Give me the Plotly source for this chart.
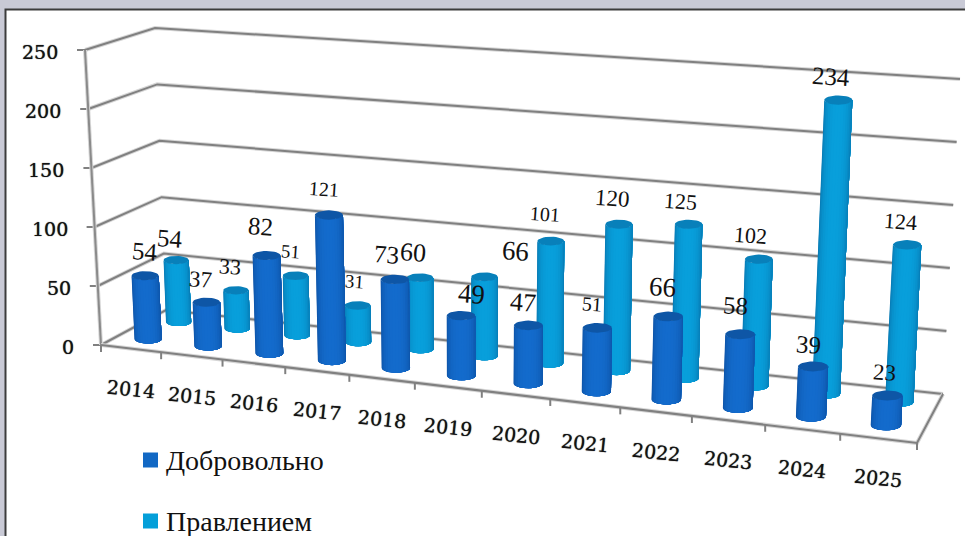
import numpy as np
import plotly.graph_objects as go

# data
years = ["2014", "2015", "2016", "2017", "2018", "2019", "2020", "2021", "2022", "2023", "2024", "2025"]
voluntary = [54, 37, 82, 121, 73, 49, 47, 51, 66, 58, 39, 23]
by_board = [54, 33, 51, 31, 60, 66, 101, 120, 125, 102, 234, 124]
y_ticks = [0, 50, 100, 150, 200, 250]
names = ["Добровольно", "Правлением"]

# label placement relative to the bar top, and label font size
vol_nudge = [(0, -24), (-6, -23), (-6, -29), (-5, -26), (-8, -25), (10, -22),
             (-5, -23), (-5, -24), (-6, -29), (-5, -29), (-5, -22), (-3, -23)]
board_nudge = [(-6, -22), (-6, -24), (-5, -24), (-3, -24), (-7, -25), (31, -26),
               (-6, -27), (-6, -26), (-8, -23), (-8, -24), (-7, -24), (-7, -23)]
vol_size = [25, 23, 25, 20, 25, 27, 26, 20, 27, 25, 25, 23]
board_size = [25, 22, 19, 19, 26, 27, 20, 23, 22, 22, 25, 22]

# corners of the 3d box in page pixels: (front/back, left/right) at value 0 and 250
FL0, FR0, BL0, BR0 = np.array([101, 345.]), np.array([917, 443.]), np.array([166, 310.]), np.array([943, 394.])
FL1, FR1, BL1, BR1 = np.array([85, 50.]), np.array([935, 113.]), np.array([155, 28.]), np.array([960, 79.])
K = 0.875  # perspective along the category axis
YMAX = 250


def project(cat, depth, value):
    t = cat / len(years)
    u = K * t / (1 + (K - 1) * t)
    w = value / YMAX
    low = (1 - depth) * ((1 - u) * FL0 + u * FR0) + depth * ((1 - u) * BL0 + u * BR0)
    top = (1 - depth) * ((1 - u) * FL1 + u * FR1) + depth * ((1 - u) * BL1 + u * BR1)
    return (1 - w) * low + w * top


def line(points, color="#808080", width=2, shadow=True):
    xs = [p[0] for p in points]
    ys = [p[1] for p in points]
    if shadow:
        fig.add_trace(go.Scatter(x=xs, y=ys, mode="lines", line=dict(color="#d6d6d6", width=width + 2),
                                 hoverinfo="skip", showlegend=False))
    fig.add_trace(go.Scatter(x=xs, y=ys, mode="lines", line=dict(color=color, width=width),
                             hoverinfo="skip", showlegend=False))


def mix(c1, c2, a):
    c1 = np.array(c1, float)
    c2 = np.array(c2, float)
    c = c1 + (c2 - c1) * a
    return "rgb(%d,%d,%d)" % tuple(c)


def add_bars(values, depth, edge, mid, cap, width_left, width_right):
    # painter style: every step covers the bar from its angle to the right edge
    n = 16
    angles = np.linspace(-np.pi / 2, np.pi / 2, n + 1)
    for s in range(n):
        xs, ys = [], []
        arc = np.linspace(angles[s], np.pi / 2, n + 1 - s)
        for i, val in enumerate(values):
            base = project(i + 0.5, depth, 0)
            top = project(i + 0.5, depth, val)
            r = width_left + (width_right - width_left) * i / 11
            ry = r * 0.33
            xs += list(base[0] + r * np.sin(arc)) + list(top[0] + r * np.sin(arc[::-1])) + [base[0] + r * np.sin(arc[0]), None]
            ys += list(base[1] + ry * np.cos(arc)) + list(top[1] + ry * np.cos(arc[::-1])) + [base[1] + ry * np.cos(arc[0]), None]
        centre = (angles[s] + angles[s + 1]) / 2
        col = mix(edge, mid, np.cos(centre) ** 0.8)
        fig.add_trace(go.Scatter(x=xs, y=ys, mode="lines", fill="toself", fillcolor=col,
                                 line=dict(width=0), hoverinfo="skip", showlegend=False))
    xs, ys = [], []
    theta = np.linspace(0, 2 * np.pi, 33)
    for i, val in enumerate(values):
        top = project(i + 0.5, depth, val)
        r = width_left + (width_right - width_left) * i / 11
        xs += list(top[0] + r * np.sin(theta)) + [None]
        ys += list(top[1] + r * 0.33 * np.cos(theta)) + [None]
    fig.add_trace(go.Scatter(x=xs, y=ys, mode="lines", fill="toself", fillcolor=cap,
                             line=dict(width=0), hoverinfo="skip", showlegend=False))


fig = go.Figure()

# frame
fig.add_shape(type="rect", x0=5.5, y0=9.5, x1=975, y1=545, fillcolor="white",
              line=dict(color="#3c3c3c", width=2), layer="below")

# walls
for v in y_ticks:
    line([project(0, 0, v), project(0, 1, v), project(len(years), 1, v)])
    a = project(0, 0, v)
    line([a - np.array([8, 0]), a], shadow=False)
line([project(0, 0, 0), project(0, 0, YMAX)], color="#8a8a8a")

# floor
line([project(0, 0, 0), project(len(years), 0, 0), project(len(years), 1, 0)])
for i in range(len(years) + 1):
    a = project(i, 0, 0)
    line([a, a + np.array([0, 7])], shadow=False)

add_bars(by_board, 0.75, (8, 112, 168), (8, 160, 220), "rgb(8,128,186)", 12.6, 14.2)
add_bars(voluntary, 0.27, (13, 78, 158), (20, 108, 205), "rgb(14,86,166)", 13.6, 15.2)

# legend
for name, col, yy in zip(names, ["#1268c4", "#049fd9"], [460, 521]):
    fig.add_trace(go.Scatter(x=[150.5], y=[yy], mode="markers",
                             marker=dict(symbol="square", size=15, color=col),
                             hoverinfo="skip", showlegend=False))
    fig.add_annotation(x=164, y=yy, text=name, showarrow=False, xanchor="left",
                       font=dict(family="Liberation Serif", size=28, color="#111111"))

num_font = "DejaVu Serif"
label_font = "Liberation Serif"
thick = "0 0 1px #333333"

# value axis labels
for v in y_ticks:
    a = project(0, 0, v)
    fig.add_annotation(x=a[0] - 25, y=a[1] + 2, text=str(v), showarrow=False, xanchor="right",
                       font=dict(family=num_font, size=19, color="#111111", shadow=thick))

# category labels
for i, yr in enumerate(years):
    a = project(i + 0.5, 0, 0)
    fig.add_annotation(x=a[0], y=a[1] + 40, text=yr, showarrow=False, textangle=6,
                       font=dict(family=num_font, size=19, color="#111111", shadow=thick))

# data labels
for values, depth, nudges, sizes in [(voluntary, 0.27, vol_nudge, vol_size), (by_board, 0.75, board_nudge, board_size)]:
    for i, val in enumerate(values):
        top = project(i + 0.5, depth, val)
        fig.add_annotation(x=top[0] + nudges[i][0], y=top[1] + nudges[i][1], text=str(val), showarrow=False,
                           textangle=4, font=dict(family=label_font, size=sizes[i], color="#111111"))

fig.update_layout(
    width=965, height=536, margin=dict(l=0, r=0, t=0, b=0),
    paper_bgcolor="#c9cad6", plot_bgcolor="rgba(0,0,0,0)", showlegend=False,
    xaxis=dict(range=[0, 965], visible=False, fixedrange=True),
    yaxis=dict(range=[536, 0], visible=False, fixedrange=True),
)

fig.write_html("out.html", config={"displayModeBar": False},
               post_script="document.body.style.margin='0';document.body.style.overflow='hidden';")
